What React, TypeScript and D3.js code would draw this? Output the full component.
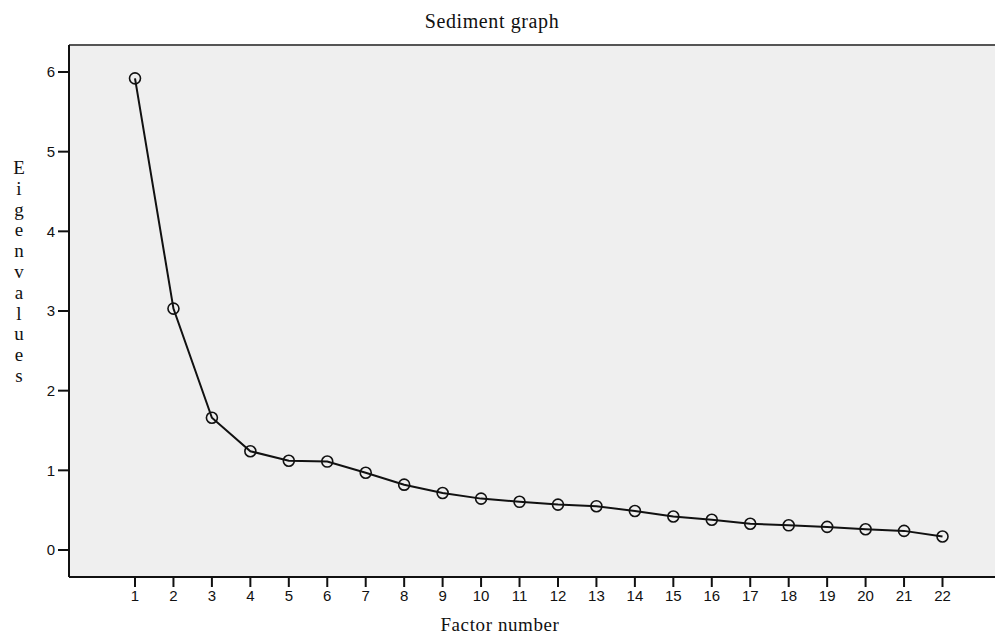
import React from "react";
import * as d3 from "d3";

const factors = [1, 2, 3, 4, 5, 6, 7, 8, 9, 10, 11, 12, 13, 14, 15, 16, 17, 18, 19, 20, 21, 22];
const eigenvalues = [
  5.92, 3.03, 1.66, 1.24, 1.12, 1.11, 0.97, 0.82, 0.715, 0.645, 0.605, 0.57,
  0.55, 0.49, 0.42, 0.38, 0.33, 0.31, 0.29, 0.26, 0.24, 0.17,
];
const yTicks = [0, 1, 2, 3, 4, 5, 6];
const title = "Sediment graph";
const xTitle = "Factor number";
const yTitle = "Eigenvalues";

const width = 995;
const height = 637;
const frame = { left: 69, top: 45, right: 995, bottom: 577 };

const App = () => {
  const x = d3.scaleLinear().domain([1, 22]).range([135, 942.5]);
  const y = d3.scaleLinear().domain([0, 6]).range([550, 72]);

  const line = d3
    .line<number>()
    .x((d, i) => x(factors[i]))
    .y((d) => y(d));

  const serif = "'Liberation Serif', 'DejaVu Serif', serif";
  const sans = "'Liberation Sans', Arial, sans-serif";

  return (
    <svg
      width={width}
      height={height}
      style={{ position: "fixed", top: 0, left: 0, background: "#fff" }}
    >
      <rect
        x={frame.left}
        y={frame.top}
        width={frame.right - frame.left}
        height={frame.bottom - frame.top}
        fill="#efefef"
      />
      <line x1={frame.left} x2={frame.right} y1={frame.top} y2={frame.top} stroke="#555" strokeWidth={2} />

      <text x={492} y={28} textAnchor="middle" fontFamily={serif} fontSize={20} letterSpacing={0.6} fill="#111">
        {title}
      </text>

      {/* y axis */}
      <line x1={frame.left} x2={frame.left} y1={frame.top} y2={frame.bottom} stroke="#111" strokeWidth={2} />
      {yTicks.map((t) => (
        <g key={t} transform={`translate(0,${y(t)})`}>
          <line x1={frame.left - 11} x2={frame.left} stroke="#111" strokeWidth={2} />
          <text x={frame.left - 14} dy="0.36em" textAnchor="end" fontFamily={sans} fontSize={15} fill="#111">
            {t}
          </text>
        </g>
      ))}
      {yTitle.split("").map((c, i) => (
        <text
          key={i}
          x={19}
          y={174 + i * 20.8}
          textAnchor="middle"
          fontFamily={serif}
          fontSize={19}
          fill="#111"
        >
          {c}
        </text>
      ))}

      {/* x axis */}
      <line x1={frame.left} x2={frame.right} y1={frame.bottom} y2={frame.bottom} stroke="#111" strokeWidth={2} />
      {factors.map((f) => (
        <g key={f} transform={`translate(${x(f)},0)`}>
          <line y1={frame.bottom} y2={frame.bottom + 10} stroke="#111" strokeWidth={2} />
          <text y={601} textAnchor="middle" fontFamily={sans} fontSize={15} fill="#111">
            {f}
          </text>
        </g>
      ))}
      <text x={500} y={631} textAnchor="middle" fontFamily={serif} fontSize={19} letterSpacing={0.6} fill="#111">
        {xTitle}
      </text>

      <path d={line(eigenvalues) ?? ""} fill="none" stroke="#111" strokeWidth={2} />
      {eigenvalues.map((v, i) => (
        <circle key={i} cx={x(factors[i])} cy={y(v)} r={5.5} fill="none" stroke="#111" strokeWidth={1.6} />
      ))}
    </svg>
  );
};

export default App;
